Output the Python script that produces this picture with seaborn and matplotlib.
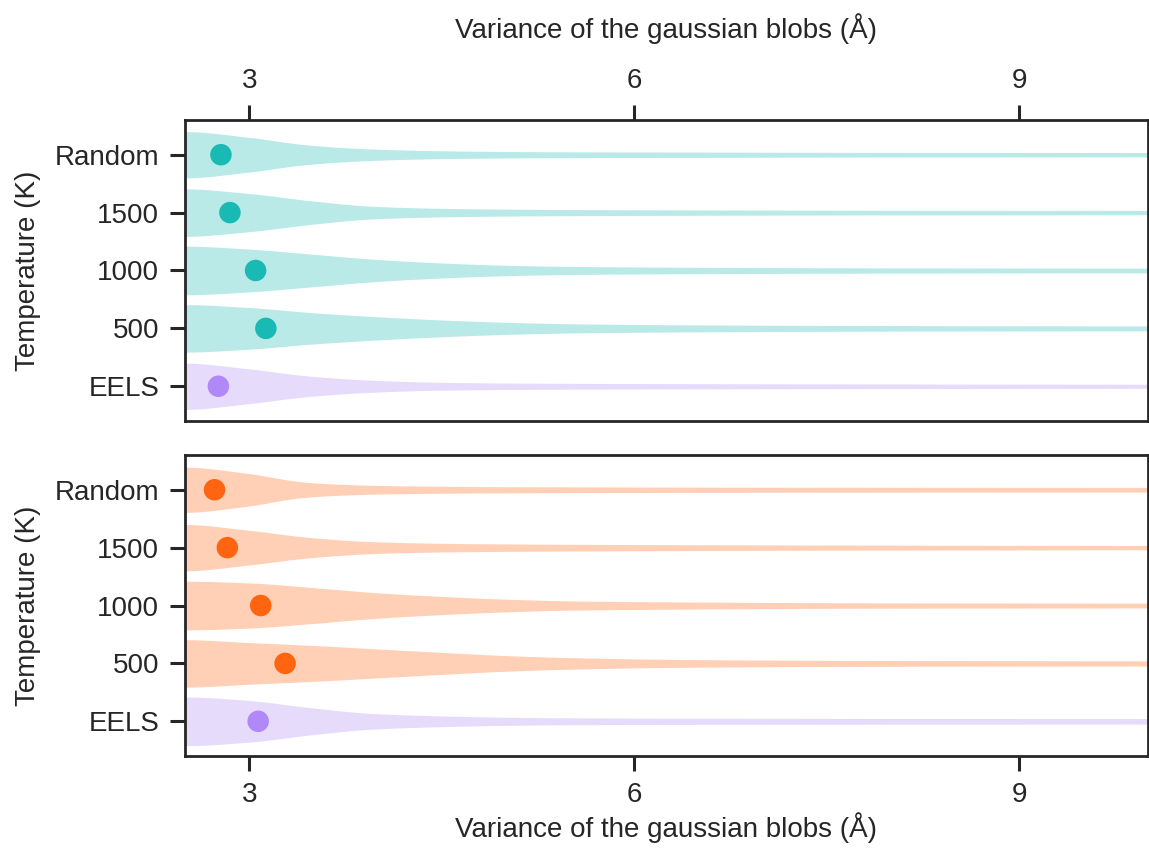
import numpy as np
import pandas as pd
import matplotlib
matplotlib.use("Agg")
import matplotlib.pyplot as plt
import seaborn as sns

# ---- data -----------------------------------------------------------------
categories = ["Random", "1500", "1000", "500", "EELS"]

# sampling grid (variance, Å) on which the violin half-widths are tabulated
grid_x = [2.3, 2.5, 3.0, 3.5, 4.0, 4.5, 5.0, 5.5, 6.5, 8.0, 10.0]

# upper panel: half-widths of each density outline
top_widths = {
    "Random": [0.40, 0.40, 0.30, 0.16, 0.095, 0.068, 0.056, 0.050, 0.046, 0.040, 0.038],
    "1500":   [0.41, 0.41, 0.33, 0.20, 0.105, 0.074, 0.060, 0.053, 0.046, 0.040, 0.037],
    "1000":   [0.42, 0.42, 0.37, 0.28, 0.190, 0.130, 0.090, 0.070, 0.055, 0.045, 0.040],
    "500":    [0.41, 0.41, 0.36, 0.27, 0.200, 0.145, 0.105, 0.080, 0.060, 0.048, 0.042],
    "EELS":   [0.40, 0.40, 0.30, 0.17, 0.100, 0.068, 0.056, 0.050, 0.045, 0.040, 0.035],
}
top_points = {"Random": 2.78, "1500": 2.85, "1000": 3.05, "500": 3.13, "EELS": 2.76}

# lower panel
bottom_widths = {
    "Random": [0.39, 0.39, 0.28, 0.12, 0.075, 0.060, 0.053, 0.050, 0.045, 0.042, 0.040],
    "1500":   [0.40, 0.40, 0.30, 0.17, 0.100, 0.075, 0.064, 0.058, 0.050, 0.042, 0.038],
    "1000":   [0.42, 0.42, 0.39, 0.31, 0.220, 0.157, 0.110, 0.080, 0.060, 0.046, 0.042],
    "500":    [0.41, 0.41, 0.36, 0.31, 0.250, 0.190, 0.135, 0.100, 0.065, 0.050, 0.045],
    "EELS":   [0.42, 0.42, 0.36, 0.23, 0.130, 0.093, 0.070, 0.060, 0.053, 0.050, 0.048],
}
bottom_points = {"Random": 2.73, "1500": 2.83, "1000": 3.09, "500": 3.28, "EELS": 3.07}

x_ticks = [3, 6, 9]
x_label = "Variance of the gaussian blobs (Å)"
y_label = "Temperature (K)"

teal = "#1ABAB4"
orange = "#FF6410"
purple = "#B088F8"

# ---- style ----------------------------------------------------------------
sns.set_theme(style="ticks")
plt.rcParams["font.family"] = ["Liberation Sans", "DejaVu Sans"]
ink = "#262626"
plt.rcParams.update({
    "axes.edgecolor": ink,
    "axes.linewidth": 2.0,
    "xtick.color": ink,
    "ytick.color": ink,
    "text.color": ink,
    "axes.labelcolor": ink,
    "xtick.major.width": 2.2,
    "ytick.major.width": 2.2,
    "xtick.major.size": 10.5,
    "ytick.major.size": 10.5,
    "xtick.major.pad": 8,
    "ytick.major.pad": 8,
})
FS = 20


def pchip(x, y, xs):
    """Monotone cubic interpolation (Fritsch-Carlson) for smooth outlines."""
    x = np.asarray(x, float)
    y = np.asarray(y, float)
    h = np.diff(x)
    d = np.diff(y) / h
    m = np.zeros_like(y)
    for k in range(1, len(y) - 1):
        if d[k - 1] * d[k] > 0:
            w1 = 2 * h[k] + h[k - 1]
            w2 = h[k] + 2 * h[k - 1]
            m[k] = (w1 + w2) / (w1 / d[k - 1] + w2 / d[k])
    m[0] = d[0]
    m[-1] = d[-1]
    idx = np.clip(np.searchsorted(x, xs) - 1, 0, len(x) - 2)
    t = (xs - x[idx]) / h[idx]
    h00 = 2 * t**3 - 3 * t**2 + 1
    h10 = t**3 - 2 * t**2 + t
    h01 = -2 * t**3 + 3 * t**2
    h11 = t**3 - t**2
    return (h00 * y[idx] + h10 * h[idx] * m[idx]
            + h01 * y[idx + 1] + h11 * h[idx] * m[idx + 1])


def outline(widths, xs):
    # interpolate in log space so the tapering tail stays smooth
    return np.exp(pchip(grid_x, np.log(widths), xs))


def draw_panel(ax, widths, points, main_color):
    xs = np.linspace(grid_x[0], grid_x[-1], 1000)
    rows = []
    for pos, cat in enumerate(categories):
        col = purple if cat == "EELS" else main_color
        half = outline(widths[cat], xs)
        ax.fill_between(xs, pos - half, pos + half, color=col, alpha=0.3,
                        linewidth=0, zorder=1)
        rows.append({"cat": cat, "pos": pos, "x": points[cat], "color": col})
    df = pd.DataFrame(rows)
    sns.scatterplot(data=df, x="x", y="pos", hue="cat",
                    palette=dict(zip(df["cat"], df["color"])),
                    s=240, linewidth=0, legend=False, ax=ax, zorder=3)
    ax.set_xlim(2.5, 10.0)
    ax.set_ylim(4.6, -0.6)
    ax.set_yticks(range(len(categories)))
    ax.set_yticklabels(categories)
    ax.set_xticks(x_ticks)
    ax.set_ylabel(y_label, fontsize=FS, labelpad=10)
    ax.tick_params(labelsize=FS)
    for s in ax.spines.values():
        s.set_visible(True)


fig = plt.figure(figsize=(11.49, 8.51), dpi=100)
ax_top = fig.add_axes([0.161, 0.5053, 0.838, 0.3537])
ax_bot = fig.add_axes([0.161, 0.1116, 0.838, 0.3537])

draw_panel(ax_top, top_widths, top_points, teal)
draw_panel(ax_bot, bottom_widths, bottom_points, orange)

ax_top.xaxis.tick_top()
ax_top.xaxis.set_label_position("top")
ax_top.set_xlabel(x_label, fontsize=FS, labelpad=22)
ax_bot.set_xlabel(x_label, fontsize=FS, labelpad=3)

fig.savefig("out.png", dpi=100)
